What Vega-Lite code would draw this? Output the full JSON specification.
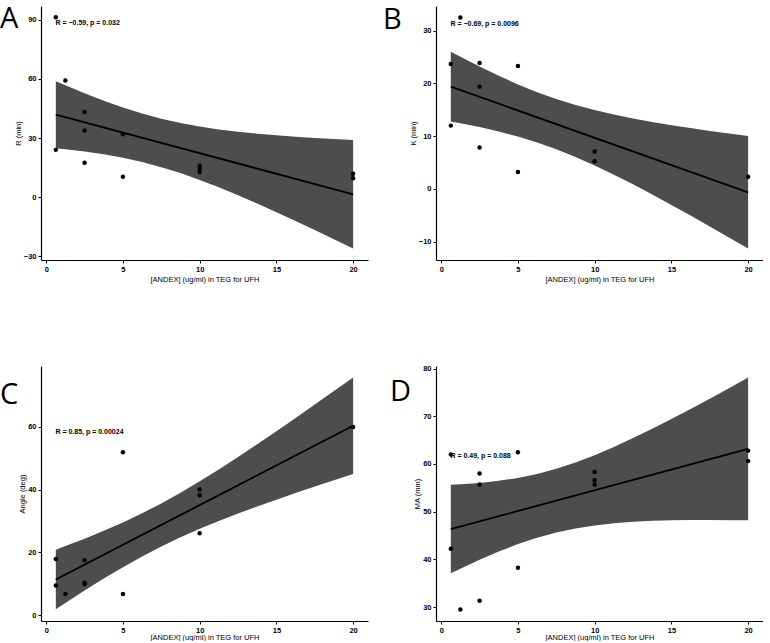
{
  "$schema": "https://vega.github.io/schema/vega-lite/v6.json",
  "padding": {"left": 0, "top": 5, "right": 0, "bottom": 0},
  "background": "white",
  "config": {
    "view": {"stroke": null},
    "axis": {
      "grid": false, "domainColor": "black", "domainWidth": 1.2, "tickColor": "black", "tickSize": 3, "tickWidth": 1,
      "labelColor": "black", "labelFont": "Liberation Sans", "labelFontSize": 7.5, "labelFontWeight": "bold", "labelPadding": 2,
      "titleColor": "black", "titleFont": "Liberation Sans", "titleFontSize": 7.5, "titleFontWeight": "normal", "titlePadding": 3
    },
    "axisY": {"titlePadding": 1},
    "title": {"font": "Open Sans", "fontSize": 29, "fontWeight": "normal", "color": "black", "anchor": "start", "frame": "group", "baseline": "top", "offset": 0}
  },
  "datasets": {
    "pts": [
      {"panel": "A", "x": 0.625, "y": 91.2}, {"panel": "A", "x": 0.625, "y": 24.0}, {"panel": "A", "x": 1.25, "y": 59.2},
      {"panel": "A", "x": 2.5, "y": 43.2}, {"panel": "A", "x": 2.5, "y": 33.8}, {"panel": "A", "x": 2.5, "y": 17.5},
      {"panel": "A", "x": 5, "y": 31.9}, {"panel": "A", "x": 5, "y": 10.4}, {"panel": "A", "x": 10, "y": 16.0},
      {"panel": "A", "x": 10, "y": 14.5}, {"panel": "A", "x": 10, "y": 12.8}, {"panel": "A", "x": 20, "y": 11.9},
      {"panel": "A", "x": 20, "y": 9.6},
      {"panel": "B", "x": 0.625, "y": 23.7}, {"panel": "B", "x": 0.625, "y": 12.0}, {"panel": "B", "x": 1.25, "y": 32.5},
      {"panel": "B", "x": 2.5, "y": 23.9}, {"panel": "B", "x": 2.5, "y": 19.4}, {"panel": "B", "x": 2.5, "y": 7.85},
      {"panel": "B", "x": 5, "y": 23.3}, {"panel": "B", "x": 5, "y": 3.2}, {"panel": "B", "x": 10, "y": 7.1},
      {"panel": "B", "x": 10, "y": 5.25}, {"panel": "B", "x": 20, "y": 2.3},
      {"panel": "C", "x": 0.625, "y": 17.9}, {"panel": "C", "x": 0.625, "y": 9.5}, {"panel": "C", "x": 1.25, "y": 6.8},
      {"panel": "C", "x": 2.5, "y": 17.5}, {"panel": "C", "x": 2.5, "y": 10.4}, {"panel": "C", "x": 2.5, "y": 10.0},
      {"panel": "C", "x": 5, "y": 51.9}, {"panel": "C", "x": 5, "y": 6.8}, {"panel": "C", "x": 10, "y": 40.0},
      {"panel": "C", "x": 10, "y": 38.2}, {"panel": "C", "x": 10, "y": 26.1}, {"panel": "C", "x": 20, "y": 59.9},
      {"panel": "D", "x": 0.625, "y": 62.0}, {"panel": "D", "x": 0.625, "y": 42.2}, {"panel": "D", "x": 1.25, "y": 29.5},
      {"panel": "D", "x": 2.5, "y": 58.0}, {"panel": "D", "x": 2.5, "y": 55.7}, {"panel": "D", "x": 2.5, "y": 31.3},
      {"panel": "D", "x": 5, "y": 62.45}, {"panel": "D", "x": 5, "y": 38.25}, {"panel": "D", "x": 10, "y": 58.3},
      {"panel": "D", "x": 10, "y": 56.6}, {"panel": "D", "x": 10, "y": 55.7}, {"panel": "D", "x": 20, "y": 62.8},
      {"panel": "D", "x": 20, "y": 60.6}
    ],
    "fit": [
      {"panel": "A", "x": 0.625, "y": 41.8}, {"panel": "A", "x": 20, "y": 1.5},
      {"panel": "B", "x": 0.625, "y": 19.4}, {"panel": "B", "x": 20, "y": -0.65},
      {"panel": "C", "x": 0.625, "y": 11.4}, {"panel": "C", "x": 20, "y": 60.3},
      {"panel": "D", "x": 0.625, "y": 46.35}, {"panel": "D", "x": 20, "y": 63.15}
    ],
    "band": [
      {"panel": "A", "x": 0.625, "lo": 24.80, "hi": 58.80}, {"panel": "A", "x": 1.25, "lo": 24.30, "hi": 56.70},
      {"panel": "A", "x": 2.5, "lo": 23.14, "hi": 52.66}, {"panel": "A", "x": 3.75, "lo": 21.72, "hi": 48.88},
      {"panel": "A", "x": 5, "lo": 19.98, "hi": 45.42}, {"panel": "A", "x": 6.25, "lo": 17.83, "hi": 42.37},
      {"panel": "A", "x": 7.5, "lo": 15.25, "hi": 39.75}, {"panel": "A", "x": 8.75, "lo": 12.22, "hi": 37.58},
      {"panel": "A", "x": 10, "lo": 8.79, "hi": 35.81}, {"panel": "A", "x": 11.25, "lo": 5.03, "hi": 34.37},
      {"panel": "A", "x": 12.5, "lo": 1.01, "hi": 33.19}, {"panel": "A", "x": 13.75, "lo": -3.21, "hi": 32.21},
      {"panel": "A", "x": 15, "lo": -7.58, "hi": 31.38}, {"panel": "A", "x": 16.25, "lo": -12.06, "hi": 30.66},
      {"panel": "A", "x": 17.5, "lo": -16.63, "hi": 30.03}, {"panel": "A", "x": 18.75, "lo": -21.27, "hi": 29.47},
      {"panel": "A", "x": 20, "lo": -25.95, "hi": 28.95},
      {"panel": "B", "x": 0.625, "lo": 12.79, "hi": 26.01}, {"panel": "B", "x": 1.25, "lo": 12.45, "hi": 25.05},
      {"panel": "B", "x": 2.5, "lo": 11.72, "hi": 23.20}, {"panel": "B", "x": 3.75, "lo": 10.89, "hi": 21.45},
      {"panel": "B", "x": 5, "lo": 9.92, "hi": 19.82}, {"panel": "B", "x": 6.25, "lo": 8.81, "hi": 18.35},
      {"panel": "B", "x": 7.5, "lo": 7.52, "hi": 17.04}, {"panel": "B", "x": 8.75, "lo": 6.06, "hi": 15.92},
      {"panel": "B", "x": 10, "lo": 4.45, "hi": 14.95}, {"panel": "B", "x": 11.25, "lo": 2.70, "hi": 14.10},
      {"panel": "B", "x": 12.5, "lo": 0.86, "hi": 13.36}, {"panel": "B", "x": 13.75, "lo": -1.06, "hi": 12.70},
      {"panel": "B", "x": 15, "lo": -3.05, "hi": 12.09}, {"panel": "B", "x": 16.25, "lo": -5.07, "hi": 11.53},
      {"panel": "B", "x": 17.5, "lo": -7.14, "hi": 11.00}, {"panel": "B", "x": 18.75, "lo": -9.22, "hi": 10.50},
      {"panel": "B", "x": 20, "lo": -11.32, "hi": 10.02},
      {"panel": "C", "x": 0.625, "lo": 1.90, "hi": 20.90}, {"panel": "C", "x": 1.25, "lo": 3.92, "hi": 22.04},
      {"panel": "C", "x": 2.5, "lo": 7.88, "hi": 24.38}, {"panel": "C", "x": 3.75, "lo": 11.70, "hi": 26.88},
      {"panel": "C", "x": 5, "lo": 15.33, "hi": 29.55}, {"panel": "C", "x": 6.25, "lo": 18.74, "hi": 32.46},
      {"panel": "C", "x": 7.5, "lo": 21.90, "hi": 35.60}, {"panel": "C", "x": 8.75, "lo": 24.82, "hi": 39.00},
      {"panel": "C", "x": 10, "lo": 27.51, "hi": 42.61}, {"panel": "C", "x": 11.25, "lo": 30.02, "hi": 46.42},
      {"panel": "C", "x": 12.5, "lo": 32.37, "hi": 50.37}, {"panel": "C", "x": 13.75, "lo": 34.63, "hi": 54.43},
      {"panel": "C", "x": 15, "lo": 36.79, "hi": 58.57}, {"panel": "C", "x": 16.25, "lo": 38.90, "hi": 62.78},
      {"panel": "C", "x": 17.5, "lo": 40.95, "hi": 67.03}, {"panel": "C", "x": 18.75, "lo": 42.97, "hi": 71.33},
      {"panel": "C", "x": 20, "lo": 44.95, "hi": 75.65},
      {"panel": "D", "x": 0.625, "lo": 37.08, "hi": 55.62}, {"panel": "D", "x": 1.25, "lo": 38.05, "hi": 55.73},
      {"panel": "D", "x": 2.5, "lo": 39.93, "hi": 56.03}, {"panel": "D", "x": 3.75, "lo": 41.65, "hi": 56.47},
      {"panel": "D", "x": 5, "lo": 43.20, "hi": 57.08}, {"panel": "D", "x": 6.25, "lo": 44.54, "hi": 57.92},
      {"panel": "D", "x": 7.5, "lo": 45.63, "hi": 58.99}, {"panel": "D", "x": 8.75, "lo": 46.48, "hi": 60.30},
      {"panel": "D", "x": 10, "lo": 47.11, "hi": 61.85}, {"panel": "D", "x": 11.25, "lo": 47.56, "hi": 63.56},
      {"panel": "D", "x": 12.5, "lo": 47.87, "hi": 65.43}, {"panel": "D", "x": 13.75, "lo": 48.07, "hi": 67.39},
      {"panel": "D", "x": 15, "lo": 48.18, "hi": 69.44}, {"panel": "D", "x": 16.25, "lo": 48.25, "hi": 71.55},
      {"panel": "D", "x": 17.5, "lo": 48.26, "hi": 73.70}, {"panel": "D", "x": 18.75, "lo": 48.22, "hi": 75.90},
      {"panel": "D", "x": 20, "lo": 48.18, "hi": 78.12}
    ],
    "lab": [
      {"panel": "A", "x": 0.6, "y": 88.1, "text": "R = −0.59, p = 0.032"},
      {"panel": "B", "x": 0.6, "y": 31.3, "text": "R = −0.69, p = 0.0096"},
      {"panel": "C", "x": 0.6, "y": 58.2, "text": "R = 0.85, p = 0.00024"},
      {"panel": "D", "x": 0.6, "y": 61.6, "text": "R = 0.49, p = 0.088"}
    ]
  },
  "columns": 2,
  "spacing": {"row": 106, "column": 68},
  "bounds": "flush",
  "concat": [
    {
      "width": 327, "height": 254,
      "title": {"text": "A", "dx": -41, "dy": 32},
      "layer": [
        {"data": {"name": "band"}, "transform": [{"filter": "datum.panel === 'A'"}],
         "mark": {"type": "area", "color": "#4d4d4d", "opacity": 1},
         "encoding": {
           "x": {"field": "x", "type": "quantitative", "title": "[ANDEX] (ug/ml) in TEG for UFH", "scale": {"domain": [-0.34, 20.97], "nice": false, "zero": false}, "axis": {"values": [0, 5, 10, 15, 20]}},
           "y": {"field": "lo", "type": "quantitative", "title": "R (min)", "scale": {"domain": [-31.8, 96.9], "nice": false, "zero": false}, "axis": {"values": [-30, 0, 30, 60, 90]}},
           "y2": {"field": "hi"}}},
        {"data": {"name": "fit"}, "transform": [{"filter": "datum.panel === 'A'"}],
         "mark": {"type": "line", "color": "black", "strokeWidth": 1.8},
         "encoding": {"x": {"field": "x", "type": "quantitative", "title": "[ANDEX] (ug/ml) in TEG for UFH"}, "y": {"field": "y", "type": "quantitative", "title": "R (min)"}}},
        {"data": {"name": "pts"}, "transform": [{"filter": "datum.panel === 'A'"}],
         "mark": {"type": "circle", "color": "black", "opacity": 1, "size": 20},
         "encoding": {"x": {"field": "x", "type": "quantitative", "title": "[ANDEX] (ug/ml) in TEG for UFH"}, "y": {"field": "y", "type": "quantitative", "title": "R (min)"}}},
        {"data": {"name": "lab"}, "transform": [{"filter": "datum.panel === 'A'"}],
         "mark": {"type": "text", "align": "left", "baseline": "middle", "font": "Liberation Sans", "fontSize": 7, "fontWeight": "bold", "color": "black"},
         "encoding": {"x": {"field": "x", "type": "quantitative", "title": "[ANDEX] (ug/ml) in TEG for UFH"}, "y": {"field": "y", "type": "quantitative", "title": "R (min)"}, "text": {"field": "text"}}}
      ]
    },
    {
      "width": 327, "height": 254,
      "title": {"text": "B", "dx": -53, "dy": 33},
      "layer": [
        {"data": {"name": "band"}, "transform": [{"filter": "datum.panel === 'B'"}],
         "mark": {"type": "area", "color": "#4d4d4d", "opacity": 1},
         "encoding": {
           "x": {"field": "x", "type": "quantitative", "title": "[ANDEX] (ug/ml) in TEG for UFH", "scale": {"domain": [-0.34, 20.97], "nice": false, "zero": false}, "axis": {"values": [0, 5, 10, 15, 20]}},
           "y": {"field": "lo", "type": "quantitative", "title": "K (min)", "scale": {"domain": [-13.5, 34.7], "nice": false, "zero": false}, "axis": {"values": [-10, 0, 10, 20, 30]}},
           "y2": {"field": "hi"}}},
        {"data": {"name": "fit"}, "transform": [{"filter": "datum.panel === 'B'"}],
         "mark": {"type": "line", "color": "black", "strokeWidth": 1.8},
         "encoding": {"x": {"field": "x", "type": "quantitative", "title": "[ANDEX] (ug/ml) in TEG for UFH"}, "y": {"field": "y", "type": "quantitative", "title": "K (min)"}}},
        {"data": {"name": "pts"}, "transform": [{"filter": "datum.panel === 'B'"}],
         "mark": {"type": "circle", "color": "black", "opacity": 1, "size": 20},
         "encoding": {"x": {"field": "x", "type": "quantitative", "title": "[ANDEX] (ug/ml) in TEG for UFH"}, "y": {"field": "y", "type": "quantitative", "title": "K (min)"}}},
        {"data": {"name": "lab"}, "transform": [{"filter": "datum.panel === 'B'"}],
         "mark": {"type": "text", "align": "left", "baseline": "middle", "font": "Liberation Sans", "fontSize": 7, "fontWeight": "bold", "color": "black"},
         "encoding": {"x": {"field": "x", "type": "quantitative", "title": "[ANDEX] (ug/ml) in TEG for UFH"}, "y": {"field": "y", "type": "quantitative", "title": "K (min)"}, "text": {"field": "text"}}}
      ]
    },
    {
      "width": 327, "height": 255,
      "title": {"text": "C", "dx": -41, "dy": 48},
      "layer": [
        {"data": {"name": "band"}, "transform": [{"filter": "datum.panel === 'C'"}],
         "mark": {"type": "area", "color": "#4d4d4d", "opacity": 1},
         "encoding": {
           "x": {"field": "x", "type": "quantitative", "title": "[ANDEX] (ug/ml) in TEG for UFH", "scale": {"domain": [-0.34, 20.97], "nice": false, "zero": false}, "axis": {"values": [0, 5, 10, 15, 20], "titlePadding": 0}},
           "y": {"field": "lo", "type": "quantitative", "title": "Angle (deg)", "scale": {"domain": [-1.8, 79.3], "nice": false, "zero": false}, "axis": {"values": [0, 20, 40, 60]}},
           "y2": {"field": "hi"}}},
        {"data": {"name": "fit"}, "transform": [{"filter": "datum.panel === 'C'"}],
         "mark": {"type": "line", "color": "black", "strokeWidth": 1.8},
         "encoding": {"x": {"field": "x", "type": "quantitative", "title": "[ANDEX] (ug/ml) in TEG for UFH"}, "y": {"field": "y", "type": "quantitative", "title": "Angle (deg)"}}},
        {"data": {"name": "pts"}, "transform": [{"filter": "datum.panel === 'C'"}],
         "mark": {"type": "circle", "color": "black", "opacity": 1, "size": 20},
         "encoding": {"x": {"field": "x", "type": "quantitative", "title": "[ANDEX] (ug/ml) in TEG for UFH"}, "y": {"field": "y", "type": "quantitative", "title": "Angle (deg)"}}},
        {"data": {"name": "lab"}, "transform": [{"filter": "datum.panel === 'C'"}],
         "mark": {"type": "text", "align": "left", "baseline": "middle", "font": "Liberation Sans", "fontSize": 7, "fontWeight": "bold", "color": "black"},
         "encoding": {"x": {"field": "x", "type": "quantitative", "title": "[ANDEX] (ug/ml) in TEG for UFH"}, "y": {"field": "y", "type": "quantitative", "title": "Angle (deg)"}, "text": {"field": "text"}}}
      ]
    },
    {
      "width": 327, "height": 255,
      "title": {"text": "D", "dx": -46, "dy": 46},
      "layer": [
        {"data": {"name": "band"}, "transform": [{"filter": "datum.panel === 'D'"}],
         "mark": {"type": "area", "color": "#4d4d4d", "opacity": 1},
         "encoding": {
           "x": {"field": "x", "type": "quantitative", "title": "[ANDEX] (ug/ml) in TEG for UFH", "scale": {"domain": [-0.34, 20.97], "nice": false, "zero": false}, "axis": {"values": [0, 5, 10, 15, 20], "titlePadding": 0}},
           "y": {"field": "lo", "type": "quantitative", "title": "MA (mm)", "scale": {"domain": [27.07, 80.55], "nice": false, "zero": false}, "axis": {"values": [30, 40, 50, 60, 70, 80]}},
           "y2": {"field": "hi"}}},
        {"data": {"name": "fit"}, "transform": [{"filter": "datum.panel === 'D'"}],
         "mark": {"type": "line", "color": "black", "strokeWidth": 1.8},
         "encoding": {"x": {"field": "x", "type": "quantitative", "title": "[ANDEX] (ug/ml) in TEG for UFH"}, "y": {"field": "y", "type": "quantitative", "title": "MA (mm)"}}},
        {"data": {"name": "pts"}, "transform": [{"filter": "datum.panel === 'D'"}],
         "mark": {"type": "circle", "color": "black", "opacity": 1, "size": 20},
         "encoding": {"x": {"field": "x", "type": "quantitative", "title": "[ANDEX] (ug/ml) in TEG for UFH"}, "y": {"field": "y", "type": "quantitative", "title": "MA (mm)"}}},
        {"data": {"name": "lab"}, "transform": [{"filter": "datum.panel === 'D'"}],
         "mark": {"type": "text", "align": "left", "baseline": "middle", "font": "Liberation Sans", "fontSize": 7, "fontWeight": "bold", "color": "black"},
         "encoding": {"x": {"field": "x", "type": "quantitative", "title": "[ANDEX] (ug/ml) in TEG for UFH"}, "y": {"field": "y", "type": "quantitative", "title": "MA (mm)"}, "text": {"field": "text"}}}
      ]
    }
  ]
}
